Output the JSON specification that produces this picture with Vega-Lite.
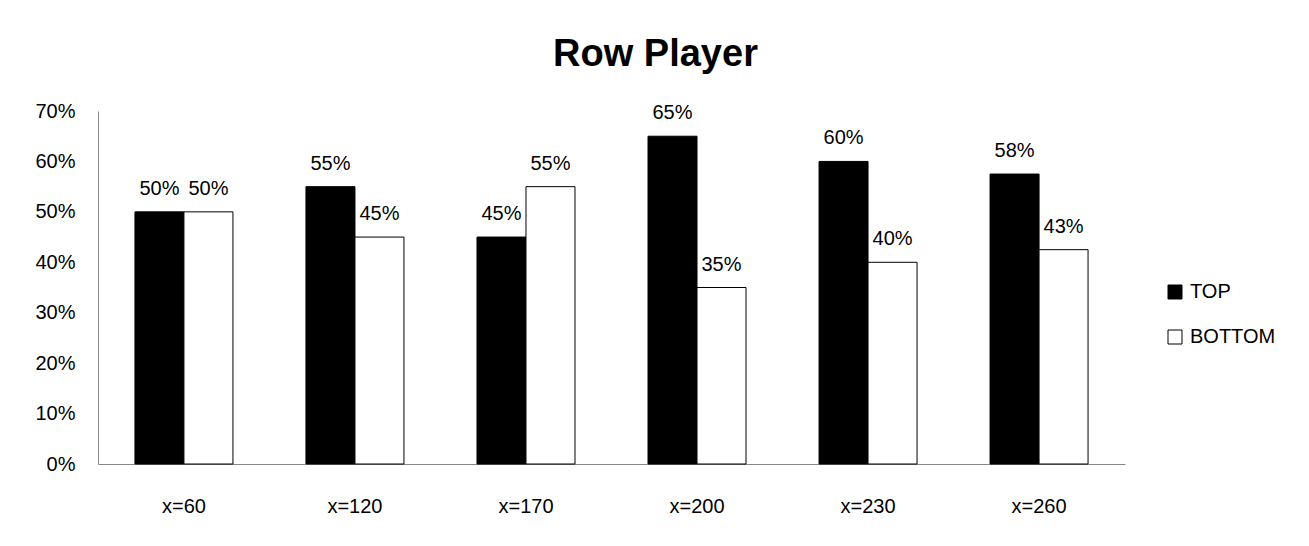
{
  "$schema": "https://vega.github.io/schema/vega-lite/v6.json",
  "width": 1027,
  "height": 353,
  "autosize": {"type": "none"},
  "padding": {"left": 98, "top": 111, "right": 184, "bottom": 82},
  "background": "white",
  "config": {"view": {"stroke": null}},
  "title": {
    "text": "Row Player",
    "font": "Liberation Sans",
    "fontSize": 38,
    "fontWeight": "bold",
    "color": "#000000",
    "anchor": "middle",
    "dx": 44,
    "baseline": "alphabetic",
    "offset": -3
  },
  "data": {
    "values": [
      {"category": "x=60", "series": "TOP", "value": 50},
      {"category": "x=60", "series": "BOTTOM", "value": 50},
      {"category": "x=120", "series": "TOP", "value": 55},
      {"category": "x=120", "series": "BOTTOM", "value": 45},
      {"category": "x=170", "series": "TOP", "value": 45},
      {"category": "x=170", "series": "BOTTOM", "value": 55},
      {"category": "x=200", "series": "TOP", "value": 65},
      {"category": "x=200", "series": "BOTTOM", "value": 35},
      {"category": "x=230", "series": "TOP", "value": 60},
      {"category": "x=230", "series": "BOTTOM", "value": 40},
      {"category": "x=260", "series": "TOP", "value": 57.5},
      {"category": "x=260", "series": "BOTTOM", "value": 42.5}
    ]
  },
  "encoding": {
    "x": {
      "field": "category",
      "type": "nominal",
      "sort": ["x=60", "x=120", "x=170", "x=200", "x=230", "x=260"],
      "scale": {"paddingInner": 0.427, "paddingOuter": 0.216},
      "axis": {
        "title": null,
        "ticks": false,
        "labelAngle": 0,
        "labelPadding": 32,
        "labelFont": "Liberation Sans",
        "labelFontSize": 20,
        "labelColor": "#000000",
        "domainColor": "#868686",
        "domainWidth": 1
      }
    },
    "xOffset": {
      "field": "series",
      "type": "nominal",
      "sort": ["TOP", "BOTTOM"],
      "scale": {"paddingInner": 0, "paddingOuter": 0}
    },
    "y": {
      "field": "value",
      "type": "quantitative",
      "scale": {"domain": [0, 70], "nice": false},
      "axis": {
        "title": null,
        "values": [0, 10, 20, 30, 40, 50, 60, 70],
        "labelExpr": "datum.value + '%'",
        "ticks": false,
        "grid": false,
        "labelPadding": 23,
        "labelFont": "Liberation Sans",
        "labelFontSize": 20,
        "labelColor": "#000000",
        "domainColor": "#868686",
        "domainWidth": 1
      }
    }
  },
  "layer": [
    {
      "mark": {"type": "bar", "stroke": "#000000", "strokeWidth": 1},
      "encoding": {
        "fill": {
          "field": "series",
          "type": "nominal",
          "sort": ["TOP", "BOTTOM"],
          "scale": {"domain": ["TOP", "BOTTOM"], "range": ["#000000", "#ffffff"]},
          "legend": {
            "title": null,
            "orient": "none",
            "legendX": 1067,
            "legendY": 171,
            "padding": 0,
            "symbolType": "square",
            "symbolSize": 196,
            "symbolStrokeColor": "#000000",
            "symbolStrokeWidth": 1,
            "labelFont": "Liberation Sans",
            "labelFontSize": 20,
            "labelColor": "#000000",
            "labelOffset": 5,
            "rowPadding": 25
          }
        }
      }
    },
    {
      "mark": {
        "type": "text",
        "baseline": "alphabetic",
        "dy": -17,
        "font": "Liberation Sans",
        "fontSize": 20,
        "color": "#000000",
        "text": {"expr": "format(datum.value, '.0f') + '%'"}
      }
    }
  ]
}
